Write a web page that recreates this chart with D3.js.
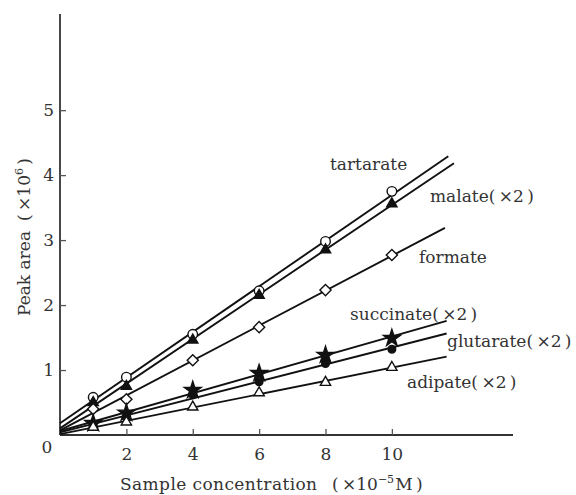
<!DOCTYPE html>
<html>
<head>
<meta charset="utf-8">
<script src="https://cdn.jsdelivr.net/npm/d3@7"></script>
<style>
  html, body { margin: 0; padding: 0; background: #fff; }
  svg { display: block; }
  text { font-family: "DejaVu Serif", "Liberation Serif", serif; fill: #333; }
</style>
</head>
<body>
<svg id="chart" width="576" height="495"></svg>
<script>
// Sample concentrations (×10^-5 M) at which each acid was measured
const concentrations = [1, 2, 4, 6, 8, 10];

// Peak areas (×10^6) for each acid
const tartarate = [0.58, 0.89, 1.55, 2.22, 2.98, 3.75];
const malate    = [0.50, 0.75, 1.46, 2.15, 2.85, 3.56];
const formate   = [0.40, 0.55, 1.15, 1.66, 2.23, 2.77];
const succinate = [0.18, 0.34, 0.69, 0.95, 1.23, 1.49];
const glutarate = [0.15, 0.28, 0.62, 0.82, 1.10, 1.32];
const adipate   = [0.12, 0.20, 0.43, 0.65, 0.81, 1.04];

const seriesLabels = ["tartarate", "malate(\u2009×2\u2009)", "formate", "succinate(\u2009×2\u2009)", "glutarate(\u2009×2\u2009)", "adipate(\u2009×2\u2009)"];
const seriesValues = [tartarate, malate, formate, succinate, glutarate, adipate];

// Axis ticks
const xTicks = [2, 4, 6, 8, 10];
const yTicks = [1, 2, 3, 4, 5];

// Layout and style
const x = d3.scaleLinear().domain([0, 13.65]).range([60, 513]);
const y = d3.scaleLinear().domain([0, 6.48]).range([435, 14]);

// Fitted lines stop a little past the last measurement
const lineEnd = [11.7, 11.87, 11.6, 11.65, 11.65, 11.65];

// Marker style for each series
const markers = [
  { type: d3.symbolCircle,   size: 72, fill: "#fff", rotate: 0 },
  { type: d3.symbolTriangle, size: 46, fill: "#111", rotate: 0 },
  { type: d3.symbolSquare,   size: 62, fill: "#fff", rotate: 45 },
  { type: d3.symbolStar,     size: 88, fill: "#111", rotate: 0 },
  { type: d3.symbolCircle,   size: 46, fill: "#111", rotate: 0 },
  { type: d3.symbolTriangle, size: 46, fill: "#fff", rotate: 0 }
];

// Label anchors (left edge, baseline) in pixels
const labelPos = [[330, 170], [430, 202], [419, 263], [350, 320], [447, 347], [407, 388]];

const svg = d3.select("#chart");

// Axes with inward ticks
const xAxis = d3.axisBottom(x).tickValues(xTicks).tickSize(-6).tickPadding(13).tickFormat(d3.format("d"));
const yAxis = d3.axisLeft(y).tickValues(yTicks).tickSize(-6).tickPadding(6).tickFormat(d3.format("d"));

const gx = svg.append("g").attr("transform", `translate(0,${y(0)})`).call(xAxis);
const gy = svg.append("g").attr("transform", `translate(${x(0)},0)`).call(yAxis);

[gx, gy].forEach(g => {
  g.select(".domain").attr("stroke", "#333").attr("stroke-width", 1.8);
  g.selectAll(".tick line").attr("stroke", "#555").attr("stroke-width", 1.3);
  g.selectAll(".tick text").attr("font-size", 17).attr("fill", "#333")
    .attr("font-family", "DejaVu Serif, serif");
});
gx.select(".domain").attr("d", `M${x(0)},0H${x(13.65)}`);
gy.select(".domain").attr("d", `M0,${y(0)}V${y(6.48)}`);

// Origin label
svg.append("text").attr("x", x(0) - 13).attr("y", y(0) + 18)
  .attr("text-anchor", "middle").attr("font-size", 17).text("0");

// Least-squares line through each series
function fit(xs, ys) {
  const mx = d3.mean(xs), my = d3.mean(ys);
  let sxy = 0, sxx = 0;
  xs.forEach((xi, i) => { sxy += (xi - mx) * (ys[i] - my); sxx += (xi - mx) * (xi - mx); });
  const slope = sxy / sxx;
  return { slope, intercept: my - slope * mx };
}

const line = d3.line().x(d => x(d[0])).y(d => y(d[1]));

seriesValues.forEach((vals, i) => {
  const f = fit(concentrations, vals);
  const pts = [[0, f.intercept], [lineEnd[i], f.intercept + f.slope * lineEnd[i]]];
  svg.append("path").attr("d", line(pts))
    .attr("fill", "none").attr("stroke", "#111").attr("stroke-width", 1.9);
});

seriesValues.forEach((vals, i) => {
  const m = markers[i];
  const sym = d3.symbol().type(m.type).size(m.size);
  svg.append("g").selectAll("path")
    .data(concentrations.map((c, j) => [c, vals[j]]))
    .join("path")
    .attr("d", sym)
    .attr("transform", d => `translate(${x(d[0])},${y(d[1])}) rotate(${m.rotate})`)
    .attr("fill", m.fill)
    .attr("stroke", "#111")
    .attr("stroke-width", 1.4);
});

// Series labels
seriesLabels.forEach((lab, i) => {
  svg.append("text").attr("x", labelPos[i][0]).attr("y", labelPos[i][1])
    .attr("font-size", 17).text(lab);
});

// Axis titles
const xt = svg.append("text").attr("x", 120).attr("y", 490).attr("font-size", 17);
xt.append("tspan").attr("letter-spacing", 0.4).text("Sample concentration");
xt.append("tspan").attr("x", 332).text("(\u2009×10");
xt.append("tspan").attr("dy", -7).attr("font-size", 11).text("−5");
xt.append("tspan").attr("dy", 7).attr("dx", 1).text("M\u2009)");

const yt = svg.append("text").attr("transform", "translate(30,316) rotate(-90)").attr("font-size", 17);
yt.append("tspan").text("Peak area");
yt.append("tspan").attr("dx", 10).text("(\u2009×10");
yt.append("tspan").attr("dy", -7).attr("font-size", 11).text("6");
yt.append("tspan").attr("dy", 7).text("\u2009)");
</script>
</body>
</html>
